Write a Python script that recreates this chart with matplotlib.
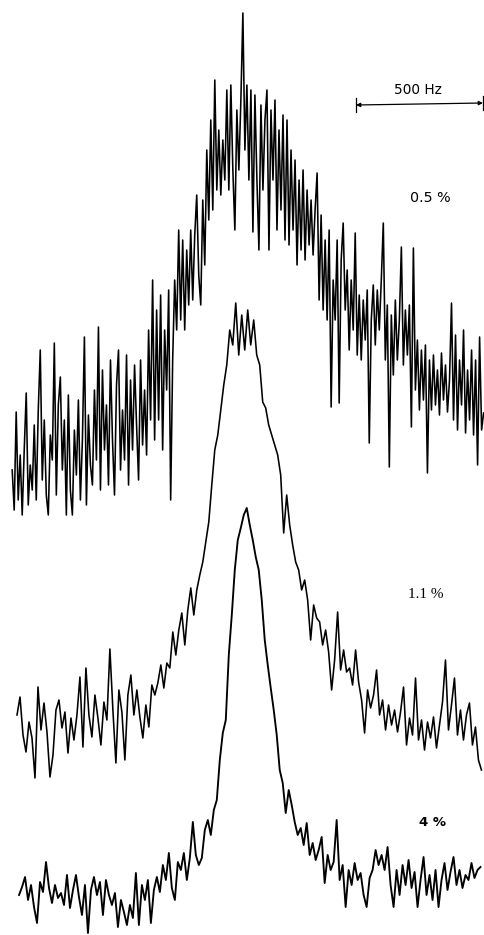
import numpy as np
import matplotlib.pyplot as plt

# line shapes (intensity, arbitrary units, above each baseline)
spec_05 = [10, -30, 68, -20, 25, -35, 30, 87, -25, 15,
           -10, 55, -20, 70, 130, 0, 60, -15, -35, 45,
           20, 137, -15, 75, 103, 10, 60, -35, 85, -10,
           -35, 50, 5, 80, -20, 40, 143, -25, 65, 15,
           -5, 90, 20, 153, -10, 110, 30, 75, -5, 120,
           40, -15, 95, 130, 10, 70, 20, 125, -5, 100,
           30, 115, 55, 0, 120, 35, 90, 25, 150, 60,
           200, 40, 170, 60, 185, 30, 150, 90, 190, -20,
           120, 200, 150, 250, 160, 240, 150, 230, 175, 250,
           180, 245, 285, 205, 175, 280, 215, 330, 260, 360,
           270, 400, 290, 350, 285, 340, 300, 390, 290, 395,
           310, 250, 370, 310, 380, 467, 330, 395, 300, 390,
           248, 385, 300, 230, 375, 290, 360, 390, 230, 370,
           300, 380, 250, 350, 270, 365, 240, 360, 235, 330,
           250, 320, 215, 300, 230, 310, 220, 290, 235, 280,
           225, 270, 307, 180, 265, 170, 240, 160, 250, 73,
           200, 160, 240, 77, 220, 257, 170, 210, 130, 200,
           150, 247, 125, 185, 120, 180, 140, 190, 37, 160,
           195, 135, 190, 150, 200, 257, 120, 175, 13, 165,
           105, 180, 120, 160, 233, 115, 170, 125, 175, 53,
           232, 90, 140, 70, 130, 80, 135, 7, 120, 70,
           125, 75, 110, 65, 127, 80, 115, 68, 100, 177,
           60, 145, 50, 120, 75, 150, 47, 110, 60, 130,
           45, 120, 15, 143, 50, 67]

spec_11 = [25, 43, 5, -12, 18, 2, -38, 53, 10, 37,
           8, -37, -15, 30, 40, 12, 28, -13, 22, 0,
           25, 63, -7, 72, 25, 3, 45, 22, -5, 38,
           20, 91, 30, -23, 50, 28, -20, 45, 65, 25,
           50, 23, 2, 35, 13, 55, 45, 57, 75, 52,
           77, 72, 108, 85, 110, 127, 95, 130, 152, 125,
           150, 165, 178, 198, 218, 255, 290, 305, 330, 355,
           375, 410, 395, 437, 385, 425, 390, 430, 395, 420,
           385, 375, 338, 332, 315, 305, 295, 285, 265, 207,
           245, 215, 195, 178, 170, 150, 160, 140, 100, 135,
           122, 118, 95, 110, 88, 50, 80, 128, 70, 90,
           68, 72, 55, 90, 58, 40, 7, 50, 32, 45,
           70, 25, 40, 10, 35, 15, 30, 8, 28, 53,
           -5, 22, 5, 62, 0, 20, -10, 18, 2, 23,
           -8, 15, 38, 80, 10, 35, 62, 5, 30, 0,
           25, 37, -5, 13, -20, -30]

spec_4 = [5, 13, 23, 0, 15, -7, -23, 18, 8, 38,
          12, -3, 15, 2, 7, -5, 25, -8, 10, 25,
          3, -15, 15, -33, 10, 23, 5, 18, -15, 20,
          5, -5, 7, -27, 0, -12, -25, -5, -18, 27,
          -25, 15, 0, 20, -23, 10, 23, 8, 35, 20,
          47, 12, 0, 38, 30, 47, 20, 42, 78, 45,
          35, 42, 70, 80, 65, 90, 100, 140, 167, 180,
          245, 285, 330, 360, 372, 385, 392, 375, 360, 343,
          330, 300, 260, 235, 212, 190, 165, 130, 117, 87,
          110, 95, 78, 65, 72, 55, 77, 45, 57, 40,
          50, 63, 17, 45, 30, 38, 80, 20, 35, -7,
          30, 15, 37, 20, 27, 5, -7, 22, 30, 50,
          35, 45, 30, 53, 15, -7, 30, 5, 35, 15,
          40, 12, 28, -7, 20, 43, 5, 25, 0, 30,
          -7, 20, 37, 10, 28, 43, 15, 30, 12, 25,
          20, 37, 22, 30, 33]

labels = ['0.5 %', '1.1 %', '4 %']

# frequency axes (Hz, relative to line centre)
f_05 = -909 + 7.9 * np.arange(len(spec_05))
f_11 = -890 + 11.8 * np.arange(len(spec_11))
f_4 = -882 + 11.8 * np.arange(len(spec_4))

fig = plt.figure(figsize=(4.85, 9.35), dpi=100)
ax = fig.add_axes([0, 0, 1, 1])
ax.set_xlim(-957, 953)
ax.set_ylim(0, 935)
ax.axis('off')

ax.plot(f_05, np.array(spec_05) + 455, color='black', lw=1.15)
ax.plot(f_11, np.array(spec_11) + 195, color='black', lw=1.15)
ax.plot(f_4, np.array(spec_4) + 35, color='black', lw=1.35)

# 500 Hz scale bar
ybar = 831
ax.annotate('', xy=(945, ybar + 1), xytext=(445, ybar - 1),
            arrowprops=dict(arrowstyle='<|-|>', lw=0.9, color='black',
                            mutation_scale=6, shrinkA=0, shrinkB=0))
ax.plot([445, 445], [ybar - 8, ybar + 6], color='black', lw=0.9)
ax.plot([945, 945], [ybar - 6, ybar + 8], color='black', lw=0.9)
ax.text(690, ybar + 7, '500 Hz', ha='center', va='bottom', fontsize=9.8,
        family='DejaVu Sans')

ax.text(737, 737, labels[0], ha='center', va='center', fontsize=10.3,
        family='DejaVu Sans')
ax.text(718, 340, labels[1], ha='center', va='center', fontsize=11,
        family='Liberation Serif')
ax.text(745, 113, labels[2], ha='center', va='center', fontsize=9.5,
        family='DejaVu Sans', weight='bold')

fig.savefig('out.png', dpi=100)
